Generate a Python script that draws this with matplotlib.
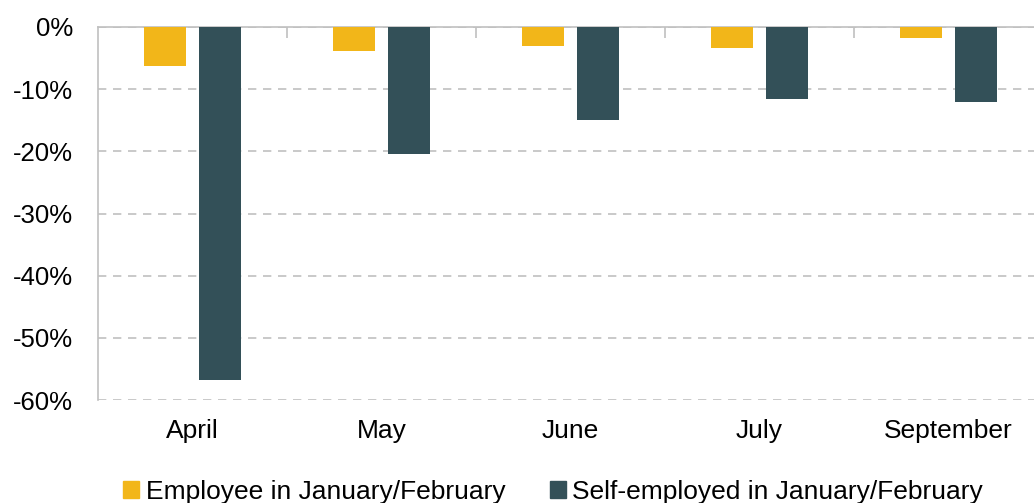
import matplotlib.pyplot as plt
import numpy as np
from matplotlib.patches import Patch
from matplotlib.ticker import FuncFormatter

months = ["April", "May", "June", "July", "September"]
employee = [-6.2, -3.9, -3.1, -3.3, -1.8]
self_employed = [-56.8, -20.4, -15.0, -11.6, -12.0]
series_names = ["Employee in January/February", "Self-employed in January/February"]
colors = ["#F2B619", "#335058"]

plt.rcParams['font.family'] = ['Liberation Sans', 'DejaVu Sans']

fig = plt.figure(figsize=(10.34, 5.03), dpi=100)
ax = fig.add_axes([98 / 1034, 1 - 400 / 503, 945 / 1034, 373 / 503])

x = np.arange(len(months))
w = 0.222
ax.bar(x - 0.143, employee, w, color=colors[0], zorder=3)
ax.bar(x + 0.143, self_employed, w, color=colors[1], zorder=3)

ax.set_xlim(-0.5, len(months) - 0.5)
ax.set_ylim(-60, 0)
ax.set_yticks(np.arange(-60, 1, 10))
ax.yaxis.set_major_formatter(FuncFormatter(lambda v, p: f"{v:.0f}%"))
ax.grid(axis='y', color='#C0C0C0', linestyle=(0, (5, 4)), linewidth=1.2, zorder=0)

ax.set_xticks(x)
ax.set_xticklabels(months)
ax.set_xticks(np.arange(0.5, len(months) - 0.5), minor=True)
ax.tick_params(axis='x', which='major', length=0, pad=14, labelsize=19)
ax.tick_params(axis='x', which='minor', bottom=False, top=True, direction='in',
               length=8, color='#C0C0C0', width=1.2)
ax.tick_params(axis='y', length=0, pad=18, labelsize=18.5)

for s in ['bottom', 'right']:
    ax.spines[s].set_visible(False)
for s in ['top', 'left']:
    ax.spines[s].set_color('#C0C0C0')
    ax.spines[s].set_linewidth(1.2)

handles = [Patch(color=c) for c in colors]
fig.legend(handles, series_names, loc='center', bbox_to_anchor=(0.535, 0.022), ncol=2,
           frameon=False, fontsize=19, handlelength=0.6, handleheight=0.6,
           handletextpad=0.25, columnspacing=1.7)

fig.savefig('out.png', dpi=100)
